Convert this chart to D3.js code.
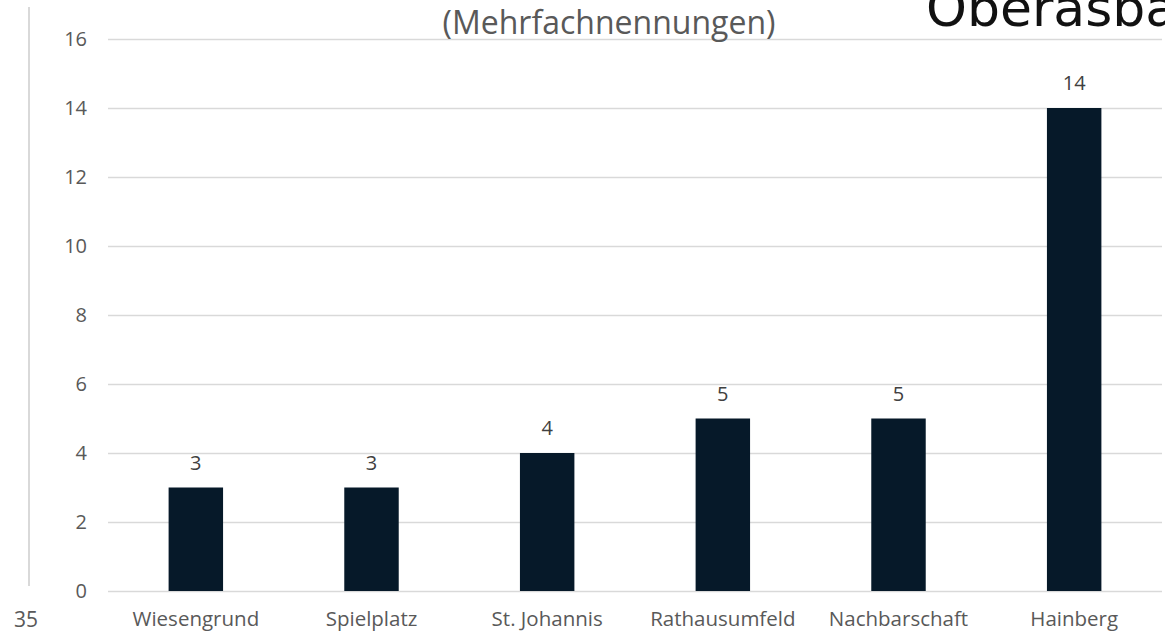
<!DOCTYPE html>
<html lang="de">
<head>
    <meta charset="UTF-8">
    <title>Mehrfachnennungen</title>
    <script src="https://d3js.org/d3.v7.min.js"></script>
    <style>
        body, html {
            margin: 0;
            padding: 0;
            background: #fff;
            overflow: hidden;
        }
        svg {
            display: block;
            font-family: 'Open Sans', sans-serif;
        }
    </style>
</head>
<body>
    <svg></svg>

    <script>
        const categories = ['Wiesengrund', 'Spielplatz', 'St. Johannis', 'Rathausumfeld', 'Nachbarschaft', 'Hainberg'];
        const values = [3, 3, 4, 5, 5, 14];
        const yTicks = [0, 2, 4, 6, 8, 10, 12, 14, 16];

        const width = 1165, height = 636;
        const svg = d3.select('svg')
            .attr('width', width)
            .attr('height', height);

        const x = d3.scaleBand()
            .domain(categories)
            .range([108, 1162])
            .paddingInner(0.69)
            .paddingOuter(0.345);

        const y = d3.scaleLinear()
            .domain([0, 16])
            .range([591, 39]);

        // left frame line
        svg.append('line')
            .attr('x1', 29).attr('x2', 29)
            .attr('y1', 7).attr('y2', 586)
            .attr('stroke', '#d9d9d9')
            .attr('stroke-width', 2);

        svg.append('text')
            .attr('x', 26).attr('y', 627)
            .attr('text-anchor', 'middle')
            .attr('font-size', 21)
            .attr('fill', '#595959')
            .text('35');

        // gridlines + y labels
        const yAxis = d3.axisLeft(y)
            .tickValues(yTicks)
            .tickSize(-(1162 - 108))
            .tickPadding(21);

        const gy = svg.append('g')
            .attr('transform', 'translate(108,0)')
            .call(yAxis);
        gy.select('.domain').remove();
        gy.selectAll('.tick line')
            .attr('stroke', '#d9d9d9')
            .attr('stroke-width', 1.5);
        gy.selectAll('.tick text')
            .attr('fill', '#595959')
            .attr('font-size', 20)
            .attr('font-family', "'Open Sans', sans-serif");

        // bars
        svg.selectAll('rect.bar')
            .data(values)
            .join('rect')
            .attr('class', 'bar')
            .attr('x', (d, i) => x(categories[i]))
            .attr('width', x.bandwidth())
            .attr('y', d => y(d))
            .attr('height', d => y(0) - y(d))
            .attr('fill', '#061929');

        // value labels
        svg.selectAll('text.val')
            .data(values)
            .join('text')
            .attr('class', 'val')
            .attr('x', (d, i) => x(categories[i]) + x.bandwidth() / 2)
            .attr('y', d => y(d) - 18)
            .attr('text-anchor', 'middle')
            .attr('font-size', 20)
            .attr('fill', '#404040')
            .text(d => d);

        // x labels
        const xAxis = d3.axisBottom(x).tickSize(0).tickPadding(20);
        const gx = svg.append('g')
            .attr('transform', 'translate(0,591)')
            .call(xAxis);
        gx.select('.domain').remove();
        gx.selectAll('.tick text')
            .attr('fill', '#595959')
            .attr('font-size', 20.5)
            .attr('font-family', "'Open Sans', sans-serif");

        // title
        svg.append('text')
            .attr('x', 609).attr('y', 34)
            .attr('text-anchor', 'middle')
            .attr('font-size', 32)
            .attr('fill', '#595959')
            .text('(Mehrfachnennungen)');

        // clipped logo text top right
        svg.append('text')
            .attr('x', 926).attr('y', 26)
            .attr('font-size', 52)
            .attr('font-family', "'DejaVu Sans', sans-serif")
            .attr('fill', '#111')
            .text('Oberasbach');
    </script>
</body>
</html>
